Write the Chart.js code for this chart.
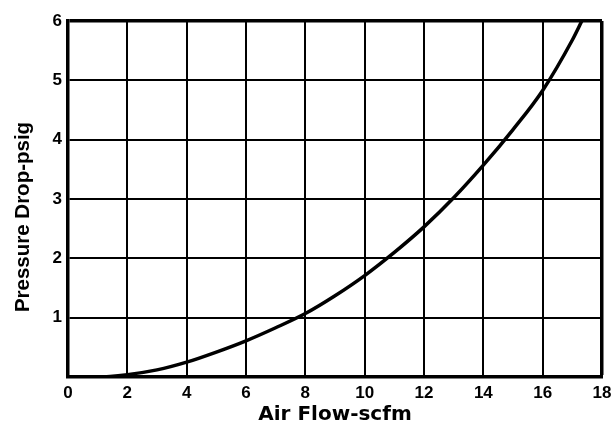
<!DOCTYPE html>
<html>
<head>
<meta charset="utf-8">
<script src="https://cdn.jsdelivr.net/npm/chart.js@4/dist/chart.umd.min.js"></script>
<style>
  html, body { margin: 0; padding: 0; background: #fff; }
  #wrap { width: 612px; height: 427px; }
</style>
</head>
<body>
<div id="wrap"><canvas id="pressure-chart" width="612" height="427"></canvas></div>
<script>
'use strict';

//***********Data***********
let airFlow = [0, 1, 2, 3, 4, 5, 6, 7, 8, 9, 10, 11, 12, 13, 14, 15, 16, 17, 17.32];
let pressureDrop = [0, 0, 0.04, 0.12, 0.25, 0.42, 0.61, 0.83, 1.07, 1.37, 1.71, 2.1, 2.53, 3.02, 3.57, 4.17, 4.83, 5.68, 6];
let xTicks = [0, 2, 4, 6, 8, 10, 12, 14, 16, 18];
let yTicks = [0, 1, 2, 3, 4, 5, 6];
let yTickLabels = ['', '1', '2', '3', '4', '5', '6'];
let xTitle = 'Air Flow-scfm';
let yTitle = 'Pressure Drop-psig';

//***********Chart setup***********
let ctx = document.getElementById('pressure-chart').getContext('2d');
let wideFont = '"DejaVu Sans", Verdana, sans-serif';
let narrowFont = '"Liberation Sans", Arial, sans-serif';

let points = [];
for (let i = 0; i < airFlow.length; i++) {
  points.push({ x: airFlow[i], y: pressureDrop[i] });
}

// y title drawn by hand so it can sit a bit below the middle like the original
let yTitlePlugin = {
  id: 'yTitle',
  afterDraw(chart) {
    let c = chart.ctx;
    c.save();
    c.translate(23, 217);
    c.rotate(-Math.PI / 2);
    c.font = 'bold 20.5px ' + narrowFont;
    c.fillStyle = '#000';
    c.textAlign = 'center';
    c.textBaseline = 'middle';
    c.fillText(yTitle, 0, 0);
    c.restore();
  }
};

let myChartObj = {
  type: 'line',
  data: {
    datasets: [{
      data: points,
      borderColor: '#000',
      borderWidth: 3.5,
      pointRadius: 0,
      fill: false,
      cubicInterpolationMode: 'monotone'
    }]
  },
  options: {
    responsive: false,
    animation: false,
    layout: { padding: { top: 21, right: 10, left: 0, bottom: 0 } },
    plugins: { legend: { display: false }, tooltip: { enabled: false } },
    scales: {
      x: {
        type: 'linear',
        min: 0,
        max: 18,
        afterBuildTicks: function (scale) {
          scale.ticks = xTicks.map(v => ({ value: v }));
        },
        afterFit: function (scale) {
          scale.height = 50;
          // don't let the "18" label push the plot in
          scale.paddingLeft = 0;
          scale.paddingRight = 0;
        },
        grid: {
          color: '#000',
          drawTicks: false,
          lineWidth: c => (c.tick && c.tick.value === 18 ? 3.5 : 2)
        },
        border: { display: true, color: '#000', width: 3.5 },
        ticks: {
          padding: 6,
          color: '#000',
          maxRotation: 0,
          font: { family: narrowFont, size: 17, weight: 'bold' }
        },
        title: {
          display: true,
          text: xTitle,
          color: '#000',
          padding: { top: 0, bottom: 0 },
          font: { family: wideFont, size: 20, weight: 'bold' }
        }
      },
      y: {
        type: 'linear',
        min: 0,
        max: 6,
        afterBuildTicks: function (scale) {
          scale.ticks = yTicks.map(v => ({ value: v }));
        },
        afterFit: function (scale) {
          scale.width = 68;
          scale.paddingTop = 0;
          scale.paddingBottom = 0;
        },
        grid: {
          color: '#000',
          drawTicks: false,
          lineWidth: c => (c.tick && c.tick.value === 6 ? 3.5 : 2)
        },
        border: { display: true, color: '#000', width: 3.5 },
        ticks: {
          padding: 6,
          color: '#000',
          font: { family: narrowFont, size: 17, weight: 'bold' },
          callback: function (value) {
            return yTickLabels[yTicks.indexOf(value)];
          }
        }
      }
    }
  },
  plugins: [yTitlePlugin]
};

new Chart(ctx, myChartObj);
</script>
</body>
</html>
